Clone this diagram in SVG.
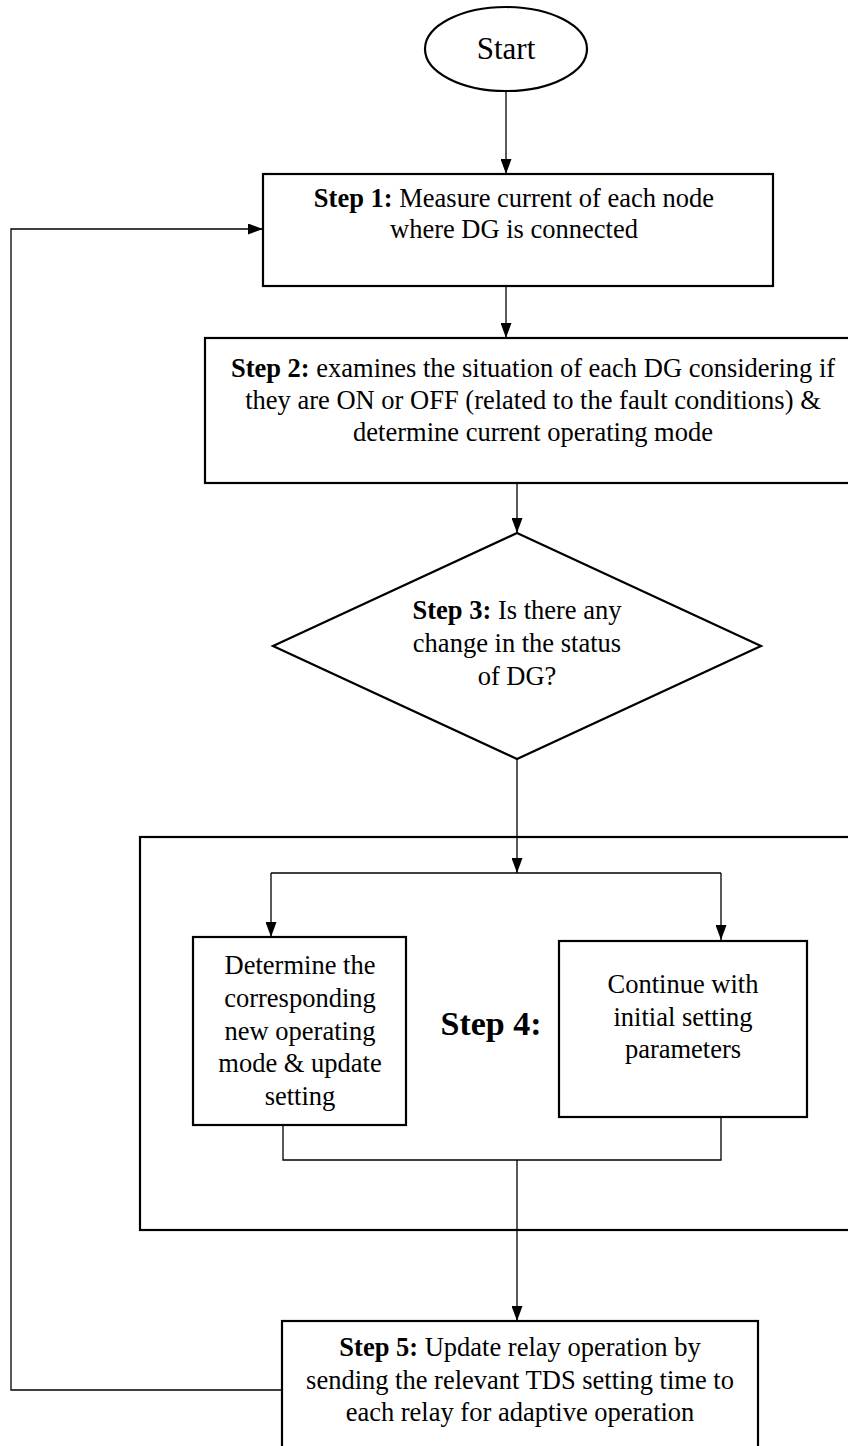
<svg xmlns="http://www.w3.org/2000/svg" width="848" height="1446" viewBox="0 0 848 1446" font-family="'Liberation Serif', 'Times New Roman', Tinos, 'DejaVu Serif', serif">
<defs>
<style>
.box{fill:#fff;stroke:#000;stroke-width:2.2}
.con{fill:none;stroke:#000;stroke-width:1.3}
text{font-family:'Liberation Serif','Times New Roman',Tinos,'DejaVu Serif',serif;font-size:26.5px;fill:#000;text-anchor:middle}
.b{font-weight:bold}
</style>
<marker id="ah" markerWidth="15" markerHeight="11" refX="15" refY="5.5" orient="auto" markerUnits="userSpaceOnUse" viewBox="0 0 15 11">
<path d="M0,0 L15,5.5 L0,11 Z" fill="#000"/>
</marker>
</defs>
<rect width="848" height="1446" fill="#fff"/>

<g id="connectors">
<line class="con" x1="506" y1="91" x2="506" y2="174" marker-end="url(#ah)"/>
<line class="con" x1="506" y1="286" x2="506" y2="338" marker-end="url(#ah)"/>
<line class="con" x1="517" y1="483" x2="517" y2="533" marker-end="url(#ah)"/>
<line class="con" x1="517" y1="759" x2="517" y2="873" marker-end="url(#ah)"/>
<polyline class="con" points="271,873 721,873"/>
<line class="con" x1="271" y1="873" x2="271" y2="937" marker-end="url(#ah)"/>
<line class="con" x1="721" y1="873" x2="721" y2="940" marker-end="url(#ah)"/>
<polyline class="con" points="283,1125 283,1160 721,1160 721,1117"/>
<line class="con" x1="517" y1="1160" x2="517" y2="1321" marker-end="url(#ah)"/>
<polyline class="con" points="282,1390 11,1390 11,229 263,229" marker-end="url(#ah)"/>
</g>

<g id="step4-group">
<rect class="box" x="140" y="837" width="720" height="393" style="fill:none"/>
<text class="b" x="491" y="1035" style="font-size:34px">Step 4:</text>
</g>

<g id="start">
<ellipse class="box" cx="506" cy="49" rx="81" ry="42"/>
<text x="506" y="59" style="font-size:31px">Start</text>
</g>

<g id="step1">
<rect class="box" x="263" y="174" width="510" height="112"/>
<text x="514" y="207"><tspan class="b">Step 1:</tspan> Measure current of each node</text>
<text x="514" y="238">where DG is connected</text>
</g>

<g id="step2">
<rect class="box" x="205" y="338" width="660" height="145"/>
<text x="533" y="377"><tspan class="b">Step 2:</tspan> examines the situation of each DG considering if</text>
<text x="533" y="409">they are ON or OFF (related to the fault conditions) &amp;</text>
<text x="533" y="441">determine current operating mode</text>
</g>

<g id="step3">
<polygon class="box" points="517,533 761,646 517,759 273,646"/>
<text x="517" y="619"><tspan class="b">Step 3:</tspan> Is there any</text>
<text x="517" y="652">change in the status</text>
<text x="517" y="685">of DG?</text>
</g>

<g id="determine">
<rect class="box" x="193" y="937" width="213" height="188"/>
<text x="300" y="974">Determine the</text>
<text x="300" y="1007">corresponding</text>
<text x="300" y="1040">new operating</text>
<text x="300" y="1072">mode &amp; update</text>
<text x="300" y="1105">setting</text>
</g>

<g id="continue">
<rect class="box" x="559" y="941" width="248" height="176"/>
<text x="683" y="993">Continue with</text>
<text x="683" y="1026">initial setting</text>
<text x="683" y="1058">parameters</text>
</g>

<g id="step5">
<rect class="box" x="282" y="1321" width="476" height="140"/>
<text x="520" y="1356"><tspan class="b">Step 5:</tspan> Update relay operation by</text>
<text x="520" y="1389">sending the relevant TDS setting time to</text>
<text x="520" y="1421">each relay for adaptive operation</text>
</g>
</svg>
